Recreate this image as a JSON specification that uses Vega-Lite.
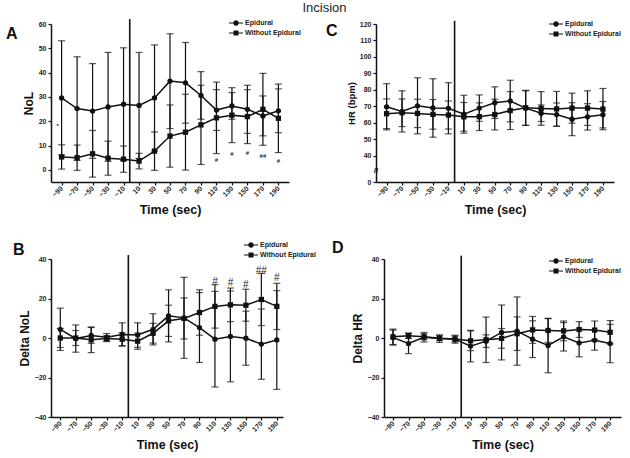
{
"$schema":"https://vega.github.io/schema/vega-lite/v6.json",
"padding":{"left":6,"top":2,"right":5,"bottom":5},
"title":{"text":"Incision","fontSize":13,"fontWeight":"normal","anchor":"middle","dx":11,"offset":3,"color":"#222","font":"Liberation Sans"},
"datasets":{
"nol":[
{"t":-90,"g":"Epidural","m":29.6,"lo":6.1,"hi":53.1},{"t":-70,"g":"Epidural","m":25.2,"lo":3.9,"hi":46.5},{"t":-50,"g":"Epidural","m":24.2,"lo":4.7,"hi":43.7},{"t":-30,"g":"Epidural","m":25.9,"lo":3.5,"hi":48.3},{"t":-10,"g":"Epidural","m":27.0,"lo":3.8,"hi":50.2},{"t":10,"g":"Epidural","m":26.5,"lo":4.7,"hi":48.3},{"t":30,"g":"Epidural","m":29.6,"lo":7.8,"hi":51.4},{"t":50,"g":"Epidural","m":36.5,"lo":17.0,"hi":56.0},{"t":70,"g":"Epidural","m":35.8,"lo":19.2,"hi":52.4},{"t":90,"g":"Epidural","m":30.6,"lo":20.8,"hi":40.4},{"t":110,"g":"Epidural","m":24.6,"lo":16.2,"hi":33.0},{"t":130,"g":"Epidural","m":26.3,"lo":20.8,"hi":31.8},{"t":150,"g":"Epidural","m":24.9,"lo":15.0,"hi":34.8},{"t":170,"g":"Epidural","m":22.2,"lo":14.0,"hi":30.4},{"t":190,"g":"Epidural","m":24.3,"lo":15.3,"hi":33.3},
{"t":-90,"g":"Without Epidural","m":5.3,"lo":0.3,"hi":10.3},{"t":-70,"g":"Without Epidural","m":5.0,"lo":-0.2,"hi":10.2},{"t":-50,"g":"Without Epidural","m":6.6,"lo":-3.0,"hi":16.2},{"t":-30,"g":"Without Epidural","m":4.8,"lo":-2.2,"hi":11.8},{"t":-10,"g":"Without Epidural","m":4.4,"lo":-1.0,"hi":9.8},{"t":10,"g":"Without Epidural","m":3.6,"lo":0.4,"hi":6.8},{"t":30,"g":"Without Epidural","m":7.7,"lo":-0.2,"hi":15.6},{"t":50,"g":"Without Epidural","m":13.9,"lo":1.1,"hi":26.7},{"t":70,"g":"Without Epidural","m":15.5,"lo":-0.1,"hi":31.1},{"t":90,"g":"Without Epidural","m":18.5,"lo":2.2,"hi":34.8},{"t":110,"g":"Without Epidural","m":21.4,"lo":6.7,"hi":36.1},{"t":130,"g":"Without Epidural","m":22.5,"lo":11.2,"hi":33.8},{"t":150,"g":"Without Epidural","m":21.9,"lo":10.8,"hi":33.0},{"t":170,"g":"Without Epidural","m":24.9,"lo":10.1,"hi":39.7},{"t":190,"g":"Without Epidural","m":21.2,"lo":7.1,"hi":35.3}
],
"dnol":[
{"t":-90,"g":"Epidural","m":4.4,"lo":-6.3,"hi":15.1},{"t":-70,"g":"Epidural","m":-0.3,"lo":-7.2,"hi":6.6},{"t":-50,"g":"Epidural","m":1.3,"lo":-2.7,"hi":5.3},{"t":-30,"g":"Epidural","m":0.4,"lo":-1.5,"hi":2.3},{"t":-10,"g":"Epidural","m":1.8,"lo":-4.1,"hi":7.7},{"t":10,"g":"Epidural","m":1.5,"lo":-4.7,"hi":7.7},{"t":30,"g":"Epidural","m":4.4,"lo":-3.5,"hi":12.3},{"t":50,"g":"Epidural","m":11.2,"lo":-2.0,"hi":24.4},{"t":70,"g":"Epidural","m":10.2,"lo":-10.3,"hi":30.7},{"t":90,"g":"Epidural","m":5.3,"lo":-12.4,"hi":23.0},{"t":110,"g":"Epidural","m":-0.6,"lo":-24.8,"hi":23.6},{"t":130,"g":"Epidural","m":0.8,"lo":-22.2,"hi":23.8},{"t":150,"g":"Epidural","m":-0.1,"lo":-13.8,"hi":13.6},{"t":170,"g":"Epidural","m":-3.1,"lo":-20.9,"hi":14.7},{"t":190,"g":"Epidural","m":-1.0,"lo":-26.0,"hi":24.0},
{"t":-90,"g":"Without Epidural","m":0.0,"lo":-4.8,"hi":4.8},{"t":-70,"g":"Without Epidural","m":0.0,"lo":-3.8,"hi":3.8},{"t":-50,"g":"Without Epidural","m":-0.9,"lo":-7.4,"hi":5.6},{"t":-30,"g":"Without Epidural","m":-0.3,"lo":-1.8,"hi":1.2},{"t":-10,"g":"Without Epidural","m":-0.6,"lo":-3.9,"hi":2.7},{"t":10,"g":"Without Epidural","m":-1.6,"lo":-5.7,"hi":2.5},{"t":30,"g":"Without Epidural","m":2.4,"lo":-2.6,"hi":7.4},{"t":50,"g":"Without Epidural","m":8.7,"lo":0.8,"hi":16.6},{"t":70,"g":"Without Epidural","m":9.9,"lo":-0.5,"hi":20.3},{"t":90,"g":"Without Epidural","m":12.9,"lo":1.4,"hi":24.4},{"t":110,"g":"Without Epidural","m":16.0,"lo":5.0,"hi":27.0},{"t":130,"g":"Without Epidural","m":16.8,"lo":8.3,"hi":25.3},{"t":150,"g":"Without Epidural","m":16.6,"lo":8.5,"hi":24.7},{"t":170,"g":"Without Epidural","m":19.5,"lo":6.3,"hi":32.7},{"t":190,"g":"Without Epidural","m":16.0,"lo":4.3,"hi":27.7}
],
"hr":[
{"t":-90,"g":"Epidural","m":69.8,"lo":55.8,"hi":83.8},{"t":-70,"g":"Epidural","m":67.0,"lo":54.5,"hi":79.5},{"t":-50,"g":"Epidural","m":70.4,"lo":53.4,"hi":87.4},{"t":-30,"g":"Epidural","m":69.1,"lo":51.4,"hi":86.8},{"t":-10,"g":"Epidural","m":68.9,"lo":53.4,"hi":84.4},{"t":10,"g":"Epidural","m":65.3,"lo":53.8,"hi":76.8},{"t":30,"g":"Epidural","m":69.0,"lo":61.0,"hi":77.0},{"t":50,"g":"Epidural","m":72.3,"lo":62.7,"hi":81.9},{"t":70,"g":"Epidural","m":73.3,"lo":60.7,"hi":85.9},{"t":90,"g":"Epidural","m":69.0,"lo":58.5,"hi":79.5},{"t":110,"g":"Epidural","m":65.9,"lo":60.9,"hi":70.9},{"t":130,"g":"Epidural","m":65.1,"lo":58.1,"hi":72.1},{"t":150,"g":"Epidural","m":62.3,"lo":52.3,"hi":72.3},{"t":170,"g":"Epidural","m":63.7,"lo":55.7,"hi":71.7},{"t":190,"g":"Epidural","m":65.0,"lo":57.0,"hi":73.0},
{"t":-90,"g":"Without Epidural","m":65.6,"lo":56.6,"hi":74.6},{"t":-70,"g":"Without Epidural","m":66.2,"lo":57.8,"hi":74.6},{"t":-50,"g":"Without Epidural","m":65.8,"lo":57.2,"hi":74.4},{"t":-30,"g":"Without Epidural","m":65.2,"lo":56.2,"hi":74.2},{"t":-10,"g":"Without Epidural","m":64.8,"lo":56.3,"hi":73.3},{"t":10,"g":"Without Epidural","m":63.7,"lo":55.0,"hi":72.4},{"t":30,"g":"Without Epidural","m":63.8,"lo":55.4,"hi":72.2},{"t":50,"g":"Without Epidural","m":65.1,"lo":55.8,"hi":74.4},{"t":70,"g":"Without Epidural","m":67.5,"lo":56.0,"hi":79.0},{"t":90,"g":"Without Epidural","m":69.2,"lo":58.6,"hi":79.8},{"t":110,"g":"Without Epidural","m":68.8,"lo":58.6,"hi":79.0},{"t":130,"g":"Without Epidural","m":68.5,"lo":57.9,"hi":79.1},{"t":150,"g":"Without Epidural","m":69.0,"lo":59.9,"hi":78.1},{"t":170,"g":"Without Epidural","m":69.0,"lo":58.5,"hi":79.5},{"t":190,"g":"Without Epidural","m":68.4,"lo":55.9,"hi":80.9}
],
"dhr":[
{"t":-90,"g":"Epidural","m":0.2,"lo":-3.6,"hi":4.0},{"t":-70,"g":"Epidural","m":-2.8,"lo":-7.9,"hi":2.3},{"t":-50,"g":"Epidural","m":0.4,"lo":-2.0,"hi":2.8},{"t":-30,"g":"Epidural","m":-0.3,"lo":-2.2,"hi":1.6},{"t":-10,"g":"Epidural","m":-0.6,"lo":-2.6,"hi":1.4},{"t":10,"g":"Epidural","m":-4.1,"lo":-12.1,"hi":3.9},{"t":30,"g":"Epidural","m":-1.6,"lo":-4.8,"hi":1.6},{"t":50,"g":"Epidural","m":2.8,"lo":-11.1,"hi":16.7},{"t":70,"g":"Epidural","m":3.5,"lo":-13.8,"hi":20.8},{"t":90,"g":"Epidural","m":-0.6,"lo":-9.9,"hi":8.7},{"t":110,"g":"Epidural","m":-3.8,"lo":-17.6,"hi":10.0},{"t":130,"g":"Epidural","m":0.6,"lo":-6.6,"hi":7.8},{"t":150,"g":"Epidural","m":-2.5,"lo":-9.5,"hi":4.5},{"t":170,"g":"Epidural","m":-1.2,"lo":-6.2,"hi":3.8},{"t":190,"g":"Epidural","m":-2.8,"lo":-12.5,"hi":6.9},
{"t":-90,"g":"Without Epidural","m":0.6,"lo":-3.3,"hi":4.5},{"t":-70,"g":"Without Epidural","m":1.1,"lo":-0.3,"hi":2.5},{"t":-50,"g":"Without Epidural","m":0.6,"lo":-0.9,"hi":2.1},{"t":-30,"g":"Without Epidural","m":-0.1,"lo":-1.3,"hi":1.1},{"t":-10,"g":"Without Epidural","m":-0.5,"lo":-2.0,"hi":1.0},{"t":10,"g":"Without Epidural","m":-1.4,"lo":-6.4,"hi":3.6},{"t":30,"g":"Without Epidural","m":-0.9,"lo":-12.4,"hi":10.6},{"t":50,"g":"Without Epidural","m":-0.2,"lo":-5.2,"hi":4.8},{"t":70,"g":"Without Epidural","m":2.2,"lo":-6.3,"hi":10.7},{"t":90,"g":"Without Epidural","m":4.1,"lo":-2.7,"hi":10.9},{"t":110,"g":"Without Epidural","m":3.8,"lo":-2.2,"hi":9.8},{"t":130,"g":"Without Epidural","m":3.6,"lo":-1.4,"hi":8.6},{"t":150,"g":"Without Epidural","m":4.3,"lo":0.3,"hi":8.3},{"t":170,"g":"Without Epidural","m":4.0,"lo":-0.6,"hi":8.6},{"t":190,"g":"Without Epidural","m":2.9,"lo":-3.0,"hi":8.8}
]
},
"spacing":22,
"vconcat":[
{"hconcat":[
{"width":238,"height":158,
"title":{"text":"A","anchor":"start","frame":"group","fontSize":16,"fontWeight":"bold","dx":-45,"dy":37,"offset":0,"baseline":"alphabetic","color":"#111"},
"data":{"name":"nol"},
"encoding":{"x":{"field":"t","type":"quantitative","scale":{"domain":[-103.7,203.7],"nice":false,"zero":false},"axis":{"values":[-90,-70,-50,-30,-10,10,30,50,70,90,110,130,150,170,190],"title":"Time (sec)"}}},
"layer":[
{"data":{"values":[{"t":-2,"y1":-5,"y2":62}]},"mark":{"type":"rule","color":"#111","strokeWidth":1.6},"encoding":{"y":{"field":"y1","type":"quantitative","scale":{"domain":[-5,60],"nice":false,"zero":false},"axis":{"values":[0,10,20,30,40,50,60],"title":"NoL"}},"y2":{"field":"y2"}}},
{"mark":{"type":"rule","color":"#111","strokeWidth":1.2},"encoding":{"y":{"field":"lo","type":"quantitative","scale":{"domain":[-5,60],"nice":false,"zero":false},"axis":{"values":[0,10,20,30,40,50,60],"title":"NoL"}},"y2":{"field":"hi"},"detail":{"field":"g","type":"nominal"}}},
{"mark":{"type":"tick","orient":"horizontal","size":7,"thickness":1.2,"color":"#111"},"encoding":{"y":{"field":"lo","type":"quantitative","scale":{"domain":[-5,60],"nice":false,"zero":false},"axis":{"values":[0,10,20,30,40,50,60],"title":"NoL"}}}},
{"mark":{"type":"tick","orient":"horizontal","size":7,"thickness":1.2,"color":"#111"},"encoding":{"y":{"field":"hi","type":"quantitative","scale":{"domain":[-5,60],"nice":false,"zero":false},"axis":{"values":[0,10,20,30,40,50,60],"title":"NoL"}}}},
{"mark":{"type":"line","color":"#111","strokeWidth":1.5},"encoding":{"y":{"field":"m","type":"quantitative","scale":{"domain":[-5,60],"nice":false,"zero":false},"axis":{"values":[0,10,20,30,40,50,60],"title":"NoL"}},"detail":{"field":"g","type":"nominal"}}},
{"mark":{"type":"point","filled":true,"color":"#111","opacity":1,"size":28},"encoding":{"y":{"field":"m","type":"quantitative","scale":{"domain":[-5,60],"nice":false,"zero":false},"axis":{"values":[0,10,20,30,40,50,60],"title":"NoL"}},"shape":{"field":"g","type":"nominal","scale":{"domain":["Epidural","Without Epidural"],"range":["circle","square"]},"legend":null}}},
{"transform":[{"filter":"false"}],"mark":{"type":"point","filled":true,"color":"#111","opacity":1},"encoding":{"y":{"field":"m","type":"quantitative","scale":{"domain":[-5,60],"nice":false,"zero":false},"axis":{"values":[0,10,20,30,40,50,60],"title":"NoL"}},"shape":{"field":"g","type":"nominal","scale":{"domain":["Epidural","Without Epidural"],"range":["M-1.4,-0.12L-0.5,-0.12L-0.5,0.12L-1.4,0.12Z M0.5,-0.12L1.4,-0.12L1.4,0.12L0.5,0.12Z M0.55,0A0.55,0.55,0,1,1,-0.55,0A0.55,0.55,0,1,1,0.55,0Z","M-1.4,-0.12L-0.5,-0.12L-0.5,0.12L-1.4,0.12Z M0.5,-0.12L1.4,-0.12L1.4,0.12L0.5,0.12Z M-0.5,-0.5L0.5,-0.5L0.5,0.5L-0.5,0.5Z"]},"legend":{"title":null,"orient":"none","legendX":180,"legendY":-6}}}},
{"data":{"values":[{"t":-95,"v":18,"s":"*"},{"t":110,"v":4,"s":"#"},{"t":130,"v":6.5,"s":"#"},{"t":150,"v":7,"s":"#"},{"t":170,"v":5.7,"s":"##"},{"t":190,"v":3.6,"s":"#"}]},"mark":{"type":"text","fontSize":6,"color":"#222","font":"Liberation Sans","fontWeight":"bold"},"encoding":{"y":{"field":"v","type":"quantitative","scale":{"domain":[-5,60],"nice":false,"zero":false},"axis":{"values":[0,10,20,30,40,50,60],"title":"NoL"}},"text":{"field":"s"}}}
],
"resolve":{"scale":{"shape":"independent"}}
},
{"width":238,"height":158,
"title":{"text":"C","anchor":"start","frame":"group","fontSize":16,"fontWeight":"bold","dx":-50,"dy":33,"offset":0,"baseline":"alphabetic","color":"#111"},
"data":{"name":"hr"},
"encoding":{"x":{"field":"t","type":"quantitative","scale":{"domain":[-103.7,204.3],"nice":false,"zero":false},"axis":{"values":[-90,-70,-50,-30,-10,10,30,50,70,90,110,130,150,170,190],"title":"Time (sec)"}}},
"layer":[
{"data":{"values":[{"t":-2,"y1":24.2,"y2":122}]},"mark":{"type":"rule","color":"#111","strokeWidth":1.6},"encoding":{"y":{"field":"y1","type":"quantitative","scale":{"domain":[24.2,120],"nice":false,"zero":false},"axis":{"values":[24.2,40,50,60,70,80,90,100,110,120],"labelExpr":"datum.value < 30 ? '0' : datum.label","title":"HR (bpm)","titleFontSize":9.5}},"y2":{"field":"y2"}}},
{"mark":{"type":"rule","color":"#111","strokeWidth":1.2},"encoding":{"y":{"field":"lo","type":"quantitative","scale":{"domain":[24.2,120],"nice":false,"zero":false},"axis":{"values":[24.2,40,50,60,70,80,90,100,110,120],"labelExpr":"datum.value < 30 ? '0' : datum.label","title":"HR (bpm)","titleFontSize":9.5}},"y2":{"field":"hi"},"detail":{"field":"g","type":"nominal"}}},
{"mark":{"type":"tick","orient":"horizontal","size":7,"thickness":1.2,"color":"#111"},"encoding":{"y":{"field":"lo","type":"quantitative","scale":{"domain":[24.2,120],"nice":false,"zero":false},"axis":{"values":[24.2,40,50,60,70,80,90,100,110,120],"labelExpr":"datum.value < 30 ? '0' : datum.label","title":"HR (bpm)","titleFontSize":9.5}}}},
{"mark":{"type":"tick","orient":"horizontal","size":7,"thickness":1.2,"color":"#111"},"encoding":{"y":{"field":"hi","type":"quantitative","scale":{"domain":[24.2,120],"nice":false,"zero":false},"axis":{"values":[24.2,40,50,60,70,80,90,100,110,120],"labelExpr":"datum.value < 30 ? '0' : datum.label","title":"HR (bpm)","titleFontSize":9.5}}}},
{"mark":{"type":"line","color":"#111","strokeWidth":1.5},"encoding":{"y":{"field":"m","type":"quantitative","scale":{"domain":[24.2,120],"nice":false,"zero":false},"axis":{"values":[24.2,40,50,60,70,80,90,100,110,120],"labelExpr":"datum.value < 30 ? '0' : datum.label","title":"HR (bpm)","titleFontSize":9.5}},"detail":{"field":"g","type":"nominal"}}},
{"mark":{"type":"point","filled":true,"color":"#111","opacity":1,"size":28},"encoding":{"y":{"field":"m","type":"quantitative","scale":{"domain":[24.2,120],"nice":false,"zero":false},"axis":{"values":[24.2,40,50,60,70,80,90,100,110,120],"labelExpr":"datum.value < 30 ? '0' : datum.label","title":"HR (bpm)","titleFontSize":9.5}},"shape":{"field":"g","type":"nominal","scale":{"domain":["Epidural","Without Epidural"],"range":["circle","square"]},"legend":null}}},
{"transform":[{"filter":"false"}],"mark":{"type":"point","filled":true,"color":"#111","opacity":1},"encoding":{"y":{"field":"m","type":"quantitative","scale":{"domain":[24.2,120],"nice":false,"zero":false},"axis":{"values":[24.2,40,50,60,70,80,90,100,110,120],"labelExpr":"datum.value < 30 ? '0' : datum.label","title":"HR (bpm)","titleFontSize":9.5}},"shape":{"field":"g","type":"nominal","scale":{"domain":["Epidural","Without Epidural"],"range":["M-1.4,-0.12L-0.5,-0.12L-0.5,0.12L-1.4,0.12Z M0.5,-0.12L1.4,-0.12L1.4,0.12L0.5,0.12Z M0.55,0A0.55,0.55,0,1,1,-0.55,0A0.55,0.55,0,1,1,0.55,0Z","M-1.4,-0.12L-0.5,-0.12L-0.5,0.12L-1.4,0.12Z M0.5,-0.12L1.4,-0.12L1.4,0.12L0.5,0.12Z M-0.5,-0.5L0.5,-0.5L0.5,0.5L-0.5,0.5Z"]},"legend":{"title":null,"orient":"none","legendX":175,"legendY":-5}}}},
{"data":{"values":[{"t":-103.7,"v":31,"s":"//"}]},"mark":{"type":"text","fontSize":8,"color":"#111","font":"Liberation Sans","fontWeight":"bold"},"encoding":{"y":{"field":"v","type":"quantitative","scale":{"domain":[24.2,120],"nice":false,"zero":false},"axis":{"values":[24.2,40,50,60,70,80,90,100,110,120],"labelExpr":"datum.value < 30 ? '0' : datum.label","title":"HR (bpm)","titleFontSize":9.5}},"text":{"field":"s"}}}
],
"resolve":{"scale":{"shape":"independent"}}
}
],"spacing":87,"bounds":"flush"},
{"hconcat":[
{"width":232,"height":158,
"title":{"text":"B","anchor":"start","frame":"group","fontSize":16,"fontWeight":"bold","dx":-38,"dy":31,"offset":0,"baseline":"alphabetic","color":"#111"},
"data":{"name":"dnol"},
"encoding":{"x":{"field":"t","type":"quantitative","scale":{"domain":[-102,198],"nice":false,"zero":false},"axis":{"values":[-90,-70,-50,-30,-10,10,30,50,70,90,110,130,150,170,190],"title":"Time (sec)"}}},
"layer":[
{"data":{"values":[{"t":-2,"y1":-40,"y2":42}]},"mark":{"type":"rule","color":"#111","strokeWidth":1.6},"encoding":{"y":{"field":"y1","type":"quantitative","scale":{"domain":[-40,40],"nice":false,"zero":false},"axis":{"values":[-40,-20,0,20,40],"title":"Delta NoL"}},"y2":{"field":"y2"}}},
{"mark":{"type":"rule","color":"#111","strokeWidth":1.2},"encoding":{"y":{"field":"lo","type":"quantitative","scale":{"domain":[-40,40],"nice":false,"zero":false},"axis":{"values":[-40,-20,0,20,40],"title":"Delta NoL"}},"y2":{"field":"hi"},"detail":{"field":"g","type":"nominal"}}},
{"mark":{"type":"tick","orient":"horizontal","size":7,"thickness":1.2,"color":"#111"},"encoding":{"y":{"field":"lo","type":"quantitative","scale":{"domain":[-40,40],"nice":false,"zero":false},"axis":{"values":[-40,-20,0,20,40],"title":"Delta NoL"}}}},
{"mark":{"type":"tick","orient":"horizontal","size":7,"thickness":1.2,"color":"#111"},"encoding":{"y":{"field":"hi","type":"quantitative","scale":{"domain":[-40,40],"nice":false,"zero":false},"axis":{"values":[-40,-20,0,20,40],"title":"Delta NoL"}}}},
{"mark":{"type":"line","color":"#111","strokeWidth":1.5},"encoding":{"y":{"field":"m","type":"quantitative","scale":{"domain":[-40,40],"nice":false,"zero":false},"axis":{"values":[-40,-20,0,20,40],"title":"Delta NoL"}},"detail":{"field":"g","type":"nominal"}}},
{"mark":{"type":"point","filled":true,"color":"#111","opacity":1,"size":28},"encoding":{"y":{"field":"m","type":"quantitative","scale":{"domain":[-40,40],"nice":false,"zero":false},"axis":{"values":[-40,-20,0,20,40],"title":"Delta NoL"}},"shape":{"field":"g","type":"nominal","scale":{"domain":["Epidural","Without Epidural"],"range":["circle","square"]},"legend":null}}},
{"transform":[{"filter":"false"}],"mark":{"type":"point","filled":true,"color":"#111","opacity":1},"encoding":{"y":{"field":"m","type":"quantitative","scale":{"domain":[-40,40],"nice":false,"zero":false},"axis":{"values":[-40,-20,0,20,40],"title":"Delta NoL"}},"shape":{"field":"g","type":"nominal","scale":{"domain":["Epidural","Without Epidural"],"range":["M-1.4,-0.12L-0.5,-0.12L-0.5,0.12L-1.4,0.12Z M0.5,-0.12L1.4,-0.12L1.4,0.12L0.5,0.12Z M0.55,0A0.55,0.55,0,1,1,-0.55,0A0.55,0.55,0,1,1,0.55,0Z","M-1.4,-0.12L-0.5,-0.12L-0.5,0.12L-1.4,0.12Z M0.5,-0.12L1.4,-0.12L1.4,0.12L0.5,0.12Z M-0.5,-0.5L0.5,-0.5L0.5,0.5L-0.5,0.5Z"]},"legend":{"title":null,"orient":"none","legendX":195,"legendY":-19}}}},
{"data":{"values":[{"t":110,"v":28.2,"s":"#"},{"t":130,"v":27.6,"s":"#"},{"t":150,"v":26.8,"s":"#"},{"t":170,"v":34,"s":"##"},{"t":190,"v":30.2,"s":"#"}]},"mark":{"type":"text","fontSize":10,"color":"#222","font":"Liberation Sans"},"encoding":{"y":{"field":"v","type":"quantitative","scale":{"domain":[-40,40],"nice":false,"zero":false},"axis":{"values":[-40,-20,0,20,40],"title":"Delta NoL"}},"text":{"field":"s"}}}
],
"resolve":{"scale":{"shape":"independent"}}
},
{"width":237,"height":158,
"title":{"text":"D","anchor":"start","frame":"group","fontSize":16,"fontWeight":"bold","dx":-52,"dy":14,"offset":0,"baseline":"alphabetic","color":"#111"},
"data":{"name":"dhr"},
"encoding":{"x":{"field":"t","type":"quantitative","scale":{"domain":[-101.6,204],"nice":false,"zero":false},"axis":{"values":[-90,-70,-50,-30,-10,10,30,50,70,90,110,130,150,170,190],"title":"Time (sec)"}}},
"layer":[
{"data":{"values":[{"t":-2,"y1":-40,"y2":41.7}]},"mark":{"type":"rule","color":"#111","strokeWidth":1.6},"encoding":{"y":{"field":"y1","type":"quantitative","scale":{"domain":[-40,40],"nice":false,"zero":false},"axis":{"values":[-40,-20,0,20,40],"title":"Delta HR"}},"y2":{"field":"y2"}}},
{"mark":{"type":"rule","color":"#111","strokeWidth":1.2},"encoding":{"y":{"field":"lo","type":"quantitative","scale":{"domain":[-40,40],"nice":false,"zero":false},"axis":{"values":[-40,-20,0,20,40],"title":"Delta HR"}},"y2":{"field":"hi"},"detail":{"field":"g","type":"nominal"}}},
{"mark":{"type":"tick","orient":"horizontal","size":7,"thickness":1.2,"color":"#111"},"encoding":{"y":{"field":"lo","type":"quantitative","scale":{"domain":[-40,40],"nice":false,"zero":false},"axis":{"values":[-40,-20,0,20,40],"title":"Delta HR"}}}},
{"mark":{"type":"tick","orient":"horizontal","size":7,"thickness":1.2,"color":"#111"},"encoding":{"y":{"field":"hi","type":"quantitative","scale":{"domain":[-40,40],"nice":false,"zero":false},"axis":{"values":[-40,-20,0,20,40],"title":"Delta HR"}}}},
{"mark":{"type":"line","color":"#111","strokeWidth":1.5},"encoding":{"y":{"field":"m","type":"quantitative","scale":{"domain":[-40,40],"nice":false,"zero":false},"axis":{"values":[-40,-20,0,20,40],"title":"Delta HR"}},"detail":{"field":"g","type":"nominal"}}},
{"mark":{"type":"point","filled":true,"color":"#111","opacity":1,"size":28},"encoding":{"y":{"field":"m","type":"quantitative","scale":{"domain":[-40,40],"nice":false,"zero":false},"axis":{"values":[-40,-20,0,20,40],"title":"Delta HR"}},"shape":{"field":"g","type":"nominal","scale":{"domain":["Epidural","Without Epidural"],"range":["circle","square"]},"legend":null}}},
{"transform":[{"filter":"false"}],"mark":{"type":"point","filled":true,"color":"#111","opacity":1},"encoding":{"y":{"field":"m","type":"quantitative","scale":{"domain":[-40,40],"nice":false,"zero":false},"axis":{"values":[-40,-20,0,20,40],"title":"Delta HR"}},"shape":{"field":"g","type":"nominal","scale":{"domain":["Epidural","Without Epidural"],"range":["M-1.4,-0.12L-0.5,-0.12L-0.5,0.12L-1.4,0.12Z M0.5,-0.12L1.4,-0.12L1.4,0.12L0.5,0.12Z M0.55,0A0.55,0.55,0,1,1,-0.55,0A0.55,0.55,0,1,1,0.55,0Z","M-1.4,-0.12L-0.5,-0.12L-0.5,0.12L-1.4,0.12Z M0.5,-0.12L1.4,-0.12L1.4,0.12L0.5,0.12Z M-0.5,-0.5L0.5,-0.5L0.5,0.5L-0.5,0.5Z"]},"legend":{"title":null,"orient":"none","legendX":167,"legendY":-3}}}}
],
"resolve":{"scale":{"shape":"independent"}}
}
],"spacing":101,"bounds":"flush"}
],
"config":{
"font":"Liberation Sans",
"view":{"stroke":null},
"axis":{"grid":false,"domainColor":"#111","domainWidth":1.5,"tickColor":"#111","tickWidth":1.2,"tickSize":3,"labelFont":"Liberation Sans","labelFontSize":7,"labelFontWeight":"bold","labelColor":"#222","labelPadding":2,"titleFont":"Liberation Sans","titleFontWeight":"bold","titleColor":"#111"},
"axisX":{"labelAngle":-45,"labelAlign":"right","labelBaseline":"middle","labelFontSize":7,"titleFontSize":12.5,"titlePadding":6},
"axisY":{"titleFontSize":12,"titlePadding":3},
"legend":{"labelFont":"Liberation Sans","labelFontSize":7,"labelFontWeight":"bold","labelColor":"#222","symbolSize":100,"symbolFillColor":"#111","symbolStrokeWidth":0,"symbolOpacity":1,"labelOffset":4,"rowPadding":2,"padding":0}
}
}
